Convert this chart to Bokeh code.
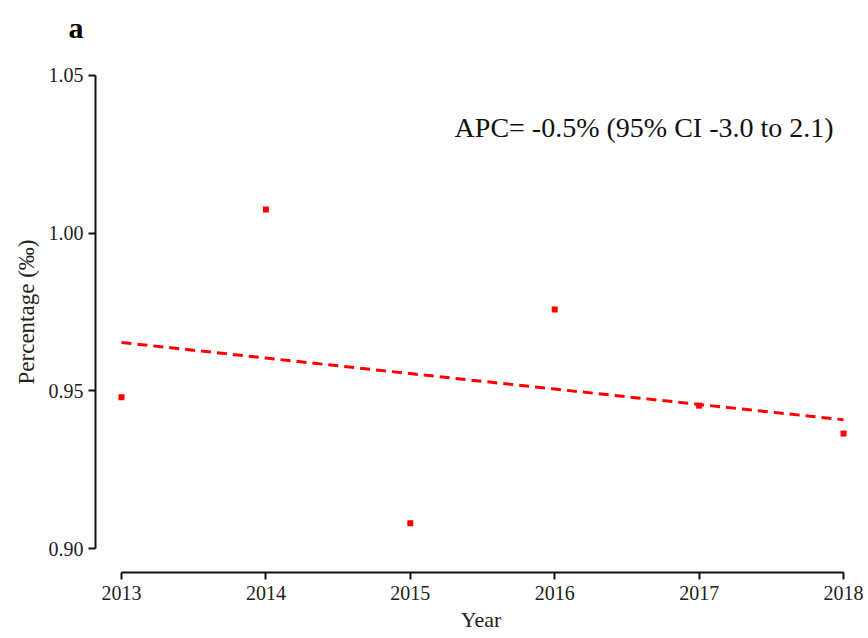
import numpy as np
from bokeh.plotting import figure
from bokeh.models import FixedTicker, Label, Range1d
from bokeh.embed import file_html
from bokeh.resources import INLINE

# ---- data ----
years = [2013, 2014, 2015, 2016, 2017, 2018]
percentage = [0.948, 1.0075, 0.908, 0.9758, 0.9453, 0.9365]
x_ticks = [2013, 2014, 2015, 2016, 2017, 2018]
y_ticks = [0.90, 0.95, 1.00, 1.05]
y_tick_labels = ["0.90", "0.95", "1.00", "1.05"]
apc_text = "APC= -0.5% (95% CI -3.0 to 2.1)"
panel_label = "a"
x_label = "Year"
y_label = "Percentage (‰)"

# log-linear (joinpoint-style) trend fitted to the points
yrs = np.array(years, dtype=float)
coef = np.polyfit(yrs, np.log(percentage), 1)
trend = np.exp(np.polyval(coef, yrs))

FONT = "Liberation Serif"

p = figure(width=868, height=638, output_backend="svg", toolbar_location=None,
           x_range=Range1d(2012.82, 2018.159), y_range=Range1d(0.89239, 1.05761),
           min_border_left=95, min_border_right=2, min_border_top=51,
           min_border_bottom=66)
p.outline_line_color = None
p.xgrid.visible = False
p.ygrid.visible = False
p.background_fill_color = "white"

p.title.text = panel_label
p.title.text_font = FONT
p.title.text_font_size = "30px"
p.title.text_font_style = "bold"
p.title.text_color = "#000000"
p.title.align = "left"
p.title.offset = -27
p.title.standoff = 16

p.line(years, trend, line_color="red", line_width=3, line_dash="10 6")
p.scatter(years, percentage, marker="square", size=6, fill_color="red",
          line_color=None)

for ax in (p.xaxis[0], p.yaxis[0]):
    ax.axis_line_width = 2
    ax.axis_line_color = "#111111"
    ax.major_tick_line_width = 2
    ax.major_tick_line_color = "#111111"
    ax.major_tick_out = 7
    ax.major_tick_in = 0
    ax.minor_tick_line_color = None
    ax.major_label_text_font = FONT
    ax.major_label_text_font_size = "20px"
    ax.major_label_text_color = "#222222"
    ax.axis_label_text_font = FONT
    ax.axis_label_text_font_style = "normal"
    ax.axis_label_text_color = "#222222"

p.xaxis.ticker = FixedTicker(ticks=x_ticks)
p.xaxis.major_label_overrides = {t: str(t) for t in x_ticks}
p.xaxis.bounds = (x_ticks[0], x_ticks[-1])
p.xaxis.axis_label = x_label
p.xaxis.axis_label_text_font_size = "22px"
p.xaxis.major_label_standoff = 6
p.xaxis.axis_label_standoff = 4

p.yaxis.ticker = FixedTicker(ticks=y_ticks)
p.yaxis.major_label_overrides = {t: l for t, l in zip(y_ticks, y_tick_labels)}
p.yaxis.bounds = (y_ticks[0], y_ticks[-1])
p.yaxis.axis_label = y_label
p.yaxis.axis_label_text_font_size = "23px"
p.yaxis.major_label_standoff = 5
p.yaxis.axis_label_standoff = 7

# APC annotation
p.add_layout(Label(x=2017.931, y=1.0335, text=apc_text, text_align="right",
                   text_baseline="alphabetic", text_font=FONT,
                   text_font_size="28px", text_color="#111111"))

open("out.html", "w").write(file_html(p, INLINE))
